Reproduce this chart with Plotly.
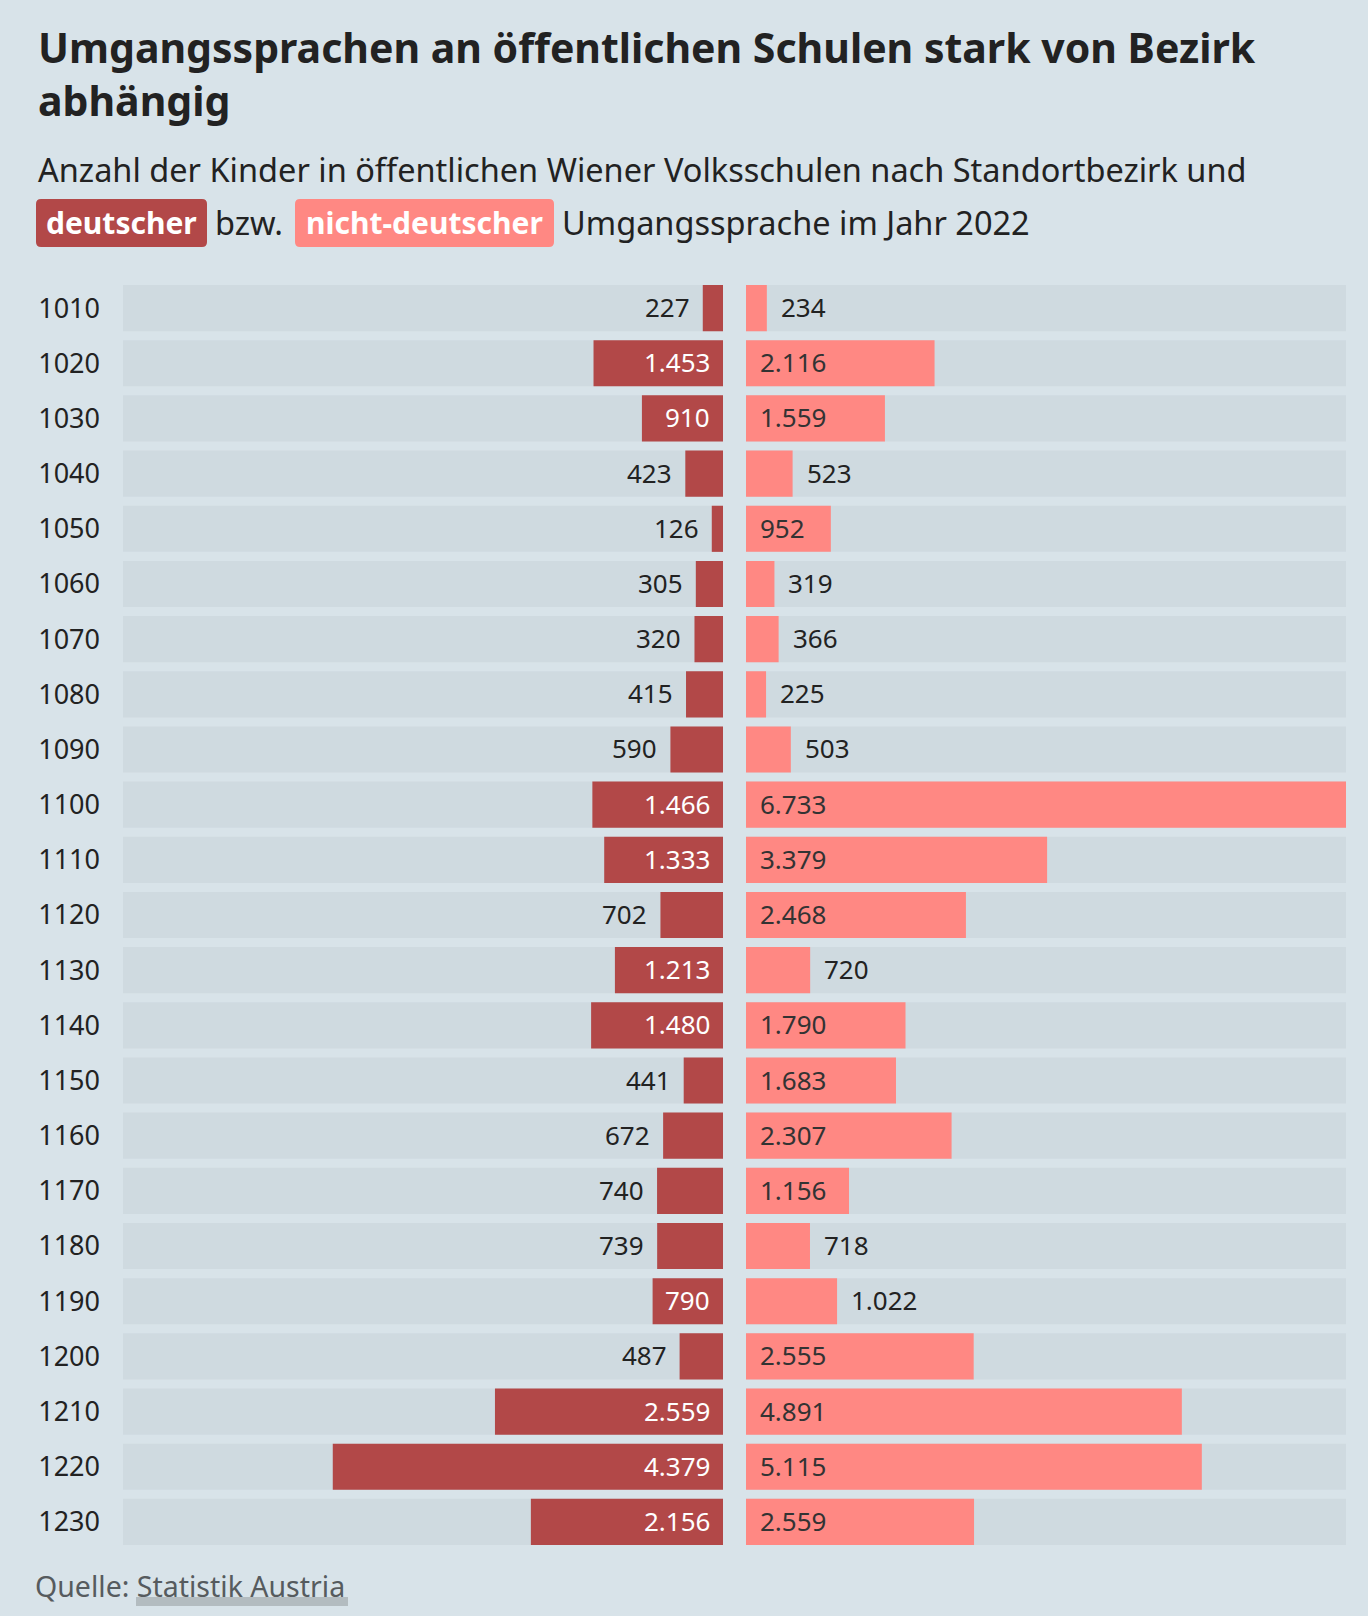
import plotly.graph_objects as go

# Data: Wiener Volksschulen 2022, Kinder nach Umgangssprache und Standortbezirk
bezirke = ["1010", "1020", "1030", "1040", "1050", "1060", "1070", "1080",
           "1090", "1100", "1110", "1120", "1130", "1140", "1150", "1160",
           "1170", "1180", "1190", "1200", "1210", "1220", "1230"]
deutsch = [227, 1453, 910, 423, 126, 305, 320, 415, 590, 1466, 1333, 702,
           1213, 1480, 441, 672, 740, 739, 790, 487, 2559, 4379, 2156]
nicht_deutsch = [234, 2116, 1559, 523, 952, 319, 366, 225, 503, 6733, 3379,
                 2468, 720, 1790, 1683, 2307, 1156, 718, 1022, 2555, 4891,
                 5115, 2559]

W, H = 1368, 1616
BG = "#d8e3e9"
ROW_BG = "#cfdae0"
RED = "#b24848"
PINK = "#ff8883"
DARK = "#222222"
FONT = "Noto Sans"

# panel geometry in pixels
LEFT_X0, LEFT_X1 = 123, 723
RIGHT_X0, RIGHT_X1 = 746, 1346
PLOT_TOP, PLOT_BOTTOM = 280.5, 1549.5
BAR_PX = LEFT_X1 - LEFT_X0
PAD = 25


def px(x):
    return x / W


def py(y):
    return 1 - y / H


def fmt(v):
    return f"{v:,}".replace(",", ".")


def label_width(v):
    # rough width of a value label in pixels
    n = len(str(v))
    return 14.3 * n + (10 if n > 3 else 0)


vmax = max(max(deutsch), max(nicht_deutsch))
scale = BAR_PX / vmax


def fits(v):
    return v * scale >= label_width(v) + PAD


rows = list(range(len(bezirke)))

fig = go.Figure()

# grey row backgrounds
fig.add_trace(go.Bar(y=rows, x=[vmax] * len(rows), orientation="h",
                     marker=dict(color=ROW_BG, line=dict(width=0)),
                     xaxis="x", yaxis="y", hoverinfo="skip", showlegend=False))
fig.add_trace(go.Bar(y=rows, x=[vmax] * len(rows), orientation="h",
                     marker=dict(color=ROW_BG, line=dict(width=0)),
                     xaxis="x2", yaxis="y", hoverinfo="skip", showlegend=False))

# value bars
fig.add_trace(go.Bar(y=rows, x=deutsch, orientation="h", name="deutsch",
                     marker=dict(color=RED, line=dict(width=0)),
                     customdata=bezirke, hovertemplate="%{customdata}: %{x}<extra></extra>",
                     xaxis="x", yaxis="y", showlegend=False))
fig.add_trace(go.Bar(y=rows, x=nicht_deutsch, orientation="h",
                     name="nicht-deutsch",
                     marker=dict(color=PINK, line=dict(width=0)),
                     customdata=bezirke, hovertemplate="%{customdata}: %{x}<extra></extra>",
                     xaxis="x2", yaxis="y", showlegend=False))

annotations = []
for r, v in zip(rows, deutsch):
    inside = fits(v)
    annotations.append(dict(
        x=0 if inside else v, y=r, xref="x", yref="y", text=fmt(v),
        showarrow=False, xanchor="right", xshift=-11, yshift=1,
        font=dict(family=FONT, size=26, color="white" if inside else DARK)))
for r, v in zip(rows, nicht_deutsch):
    inside = fits(v)
    annotations.append(dict(
        x=0 if inside else v, y=r, xref="x2", yref="y", text=fmt(v),
        showarrow=False, xanchor="left", xshift=12, yshift=1,
        font=dict(family=FONT, size=26, color="#333333" if inside else DARK)))

# title and subtitle
annotations.append(dict(
    x=px(36), y=py(17), xref="paper", yref="paper", xanchor="left",
    yanchor="top", align="left", showarrow=False,
    text="<b>Umgangssprachen an öffentlichen Schulen stark von Bezirk<br>abhängig</b>",
    font=dict(family=FONT, size=41, color=DARK)))
annotations.append(dict(
    x=px(36), y=py(169), xref="paper", yref="paper", xanchor="left",
    yanchor="middle", showarrow=False,
    text="Anzahl der Kinder in öffentlichen Wiener Volksschulen nach Standortbezirk und",
    font=dict(family=FONT, size=32.5, color=DARK)))
annotations.append(dict(
    x=px((36 + 207) / 2), y=py(222), xref="paper", yref="paper",
    xanchor="center", yanchor="middle", showarrow=False, text="<b>deutscher</b>",
    font=dict(family=FONT, size=30, color="white")))
annotations.append(dict(
    x=px(213), y=py(222), xref="paper", yref="paper", xanchor="left",
    yanchor="middle", showarrow=False, text="bzw.",
    font=dict(family=FONT, size=32.5, color=DARK)))
annotations.append(dict(
    x=px((295 + 554) / 2), y=py(222), xref="paper", yref="paper",
    xanchor="center", yanchor="middle", showarrow=False,
    text="<b>nicht-deutscher</b>",
    font=dict(family=FONT, size=30, color="white")))
annotations.append(dict(
    x=px(560), y=py(222), xref="paper", yref="paper", xanchor="left",
    yanchor="middle", showarrow=False, text="Umgangssprache im Jahr 2022",
    font=dict(family=FONT, size=32.5, color=DARK)))

# footer
annotations.append(dict(
    x=px(33), y=py(1586), xref="paper", yref="paper", xanchor="left",
    yanchor="middle", showarrow=False, text="Quelle: Statistik Austria",
    font=dict(family=FONT, size=28.5, color="#565b5e")))


def rounded_rect(x0, y0, x1, y1, r):
    return (f"M {px(x0 + r)} {py(y0)} L {px(x1 - r)} {py(y0)} "
            f"Q {px(x1)} {py(y0)} {px(x1)} {py(y0 + r)} "
            f"L {px(x1)} {py(y1 - r)} Q {px(x1)} {py(y1)} {px(x1 - r)} {py(y1)} "
            f"L {px(x0 + r)} {py(y1)} Q {px(x0)} {py(y1)} {px(x0)} {py(y1 - r)} "
            f"L {px(x0)} {py(y0 + r)} Q {px(x0)} {py(y0)} {px(x0 + r)} {py(y0)} Z")


shapes = [
    dict(type="path", xref="paper", yref="paper",
         path=rounded_rect(36, 199, 207, 247, 5),
         fillcolor=RED, line=dict(width=0), layer="below"),
    dict(type="path", xref="paper", yref="paper",
         path=rounded_rect(295, 199, 554, 247, 5),
         fillcolor=PINK, line=dict(width=0), layer="below"),
    # underline of the source link
    dict(type="rect", xref="paper", yref="paper",
         x0=px(136), x1=px(348), y0=py(1606), y1=py(1597),
         fillcolor="#b3bcc0", line=dict(width=0), layer="below"),
]

fig.update_layout(
    width=W, height=H,
    margin=dict(l=0, r=0, t=0, b=0),
    paper_bgcolor=BG, plot_bgcolor=BG,
    barmode="overlay", bargap=9 / 55,
    font=dict(family=FONT, color=DARK),
    xaxis=dict(domain=[px(LEFT_X0), px(LEFT_X1)], range=[vmax, 0],
               visible=False, fixedrange=True),
    xaxis2=dict(domain=[px(RIGHT_X0), px(RIGHT_X1)], range=[0, vmax],
                visible=False, fixedrange=True, anchor="y"),
    yaxis=dict(domain=[py(PLOT_BOTTOM), py(PLOT_TOP)],
               range=[len(rows) - 0.5, -0.5],
               tickmode="array", tickvals=rows, ticktext=bezirke,
               showgrid=False, zeroline=False, showline=False,
               ticks="", ticklabelstandoff=22,
               tickfont=dict(family=FONT, size=27, color=DARK),
               fixedrange=True),
    annotations=annotations,
    shapes=shapes,
    showlegend=False,
)

fig.write_html("out.html", config={"displayModeBar": False},
               post_script="document.body.style.margin='0';")
